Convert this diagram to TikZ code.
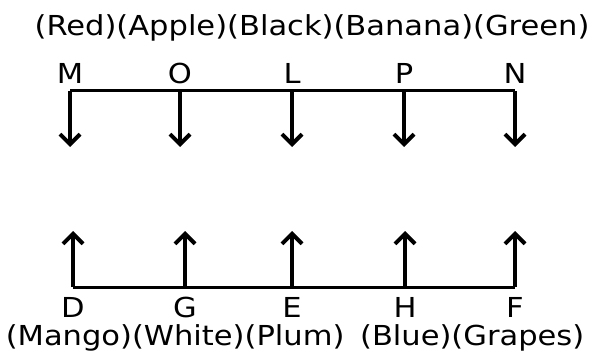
\documentclass[tikz,border=0pt]{standalone}
\usepackage{fontspec}
\setmainfont{DejaVu Sans}[FakeStretch=1.11]
\usetikzlibrary{arrows.meta}
\begin{document}
\begin{tikzpicture}[x=1pt,y=-1pt,
  lbl/.style={font=\fontsize{27.5}{30}\selectfont, inner sep=0pt},
  arr/.style={line width=4pt, -{Straight Barb[length=10pt,width=20pt]}},
  bar/.style={line width=3pt}]
\useasboundingbox (0,0) rectangle (596,358);
% top
\node[lbl] (toptext) at (312,28) {(Red)(Apple)(Black)(Banana)(Green)};
\foreach \n/\x in {M/70,O/180,L/292,P/404,N/515}{
  \node[lbl] (\n) at (\x,73) {\n};
  \coordinate (t\n) at (\x,91);
  \coordinate (e\n) at (\x,147);
}
\draw[bar] (tM) -- (tN);
\foreach \n in {M,O,L,P,N}{\draw[arr] (t\n) -- (e\n);}
% bottom
\foreach \n/\x in {D/73,G/185,E/292,H/405,F/515}{
  \node[lbl] (\n) at (\x,307) {\n};
  \coordinate (b\n) at (\x,287);
  \coordinate (u\n) at (\x,231);
}
\draw[bar] (bD) -- (bF);
\foreach \n in {D,G,E,H,F}{\draw[arr] (b\n) -- (u\n);}
\node[lbl] (bottext) at (295,338) {(Mango)(White)(Plum)\hspace{6pt} (Blue)(Grapes)};
\end{tikzpicture}
\end{document}
